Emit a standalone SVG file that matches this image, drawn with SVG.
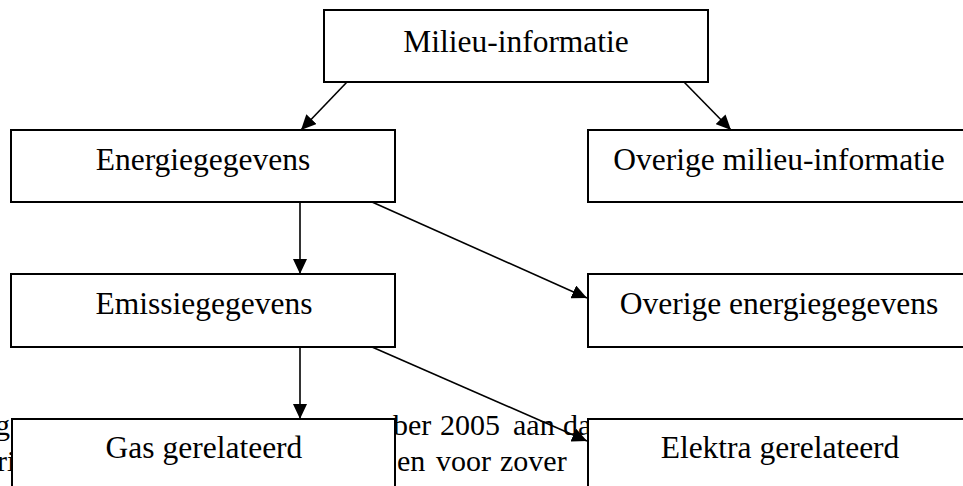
<svg xmlns="http://www.w3.org/2000/svg" width="963" height="486" viewBox="0 0 963 486">
<style>
.box{fill:#fff;stroke:#000;stroke-width:2}
.lbl{font-family:"Liberation Serif","Times New Roman",serif;font-size:31.5px;fill:#000;text-anchor:middle}
.bg{font-family:"Liberation Serif","Times New Roman",serif;font-size:30px;fill:#000}
.con{stroke:#000;stroke-width:1.6;fill:none;marker-end:url(#ah)}
</style>
<defs>
<marker id="ah" markerUnits="userSpaceOnUse" markerWidth="16" markerHeight="14" refX="15" refY="7" orient="auto">
<path d="M0,0 L15,7 L0,14 Z" fill="#000"/>
</marker>
</defs>
<rect width="963" height="486" fill="#fff"/>
<g id="background-text">
<text class="bg" y="435"><tspan x="-5">g</tspan><tspan x="393">ber</tspan><tspan x="440">2005</tspan><tspan x="513">aan</tspan><tspan x="563">da</tspan></text>
<text class="bg" y="471"><tspan x="-3">ri</tspan><tspan x="397">en</tspan><tspan x="436">voor</tspan><tspan x="500">zover</tspan></text>
</g>
<g id="connectors">
<line class="con" x1="347" y1="82" x2="301" y2="130"/>
<line class="con" x1="684" y1="82" x2="731" y2="130"/>
<line class="con" x1="300" y1="202" x2="300" y2="274"/>
<line class="con" x1="372" y1="202" x2="587" y2="298"/>
<line class="con" x1="300" y1="347" x2="300" y2="419"/>
<line class="con" x1="372" y1="347" x2="587" y2="441"/>
</g>
<g id="n-milieu"><rect class="box" x="324" y="10" width="384" height="72"/><text class="lbl" x="516" y="52">Milieu-informatie</text></g>
<g id="n-energie"><rect class="box" x="11" y="130" width="384" height="72"/><text class="lbl" x="203" y="170">Energiegegevens</text></g>
<g id="n-overige-milieu"><rect class="box" x="588" y="130" width="384" height="72"/><text class="lbl" x="779" y="170">Overige milieu-informatie</text></g>
<g id="n-emissie"><rect class="box" x="11" y="274" width="384" height="73"/><text class="lbl" x="204" y="314">Emissiegegevens</text></g>
<g id="n-overige-energie"><rect class="box" x="588" y="274" width="384" height="73"/><text class="lbl" x="779" y="314">Overige energiegegevens</text></g>
<g id="n-gas"><rect class="box" x="12" y="419" width="383" height="80"/><text class="lbl" x="204" y="458">Gas gerelateerd</text></g>
<g id="n-elektra"><rect class="box" x="588" y="419" width="384" height="80"/><text class="lbl" x="780" y="458">Elektra gerelateerd</text></g>
</svg>
